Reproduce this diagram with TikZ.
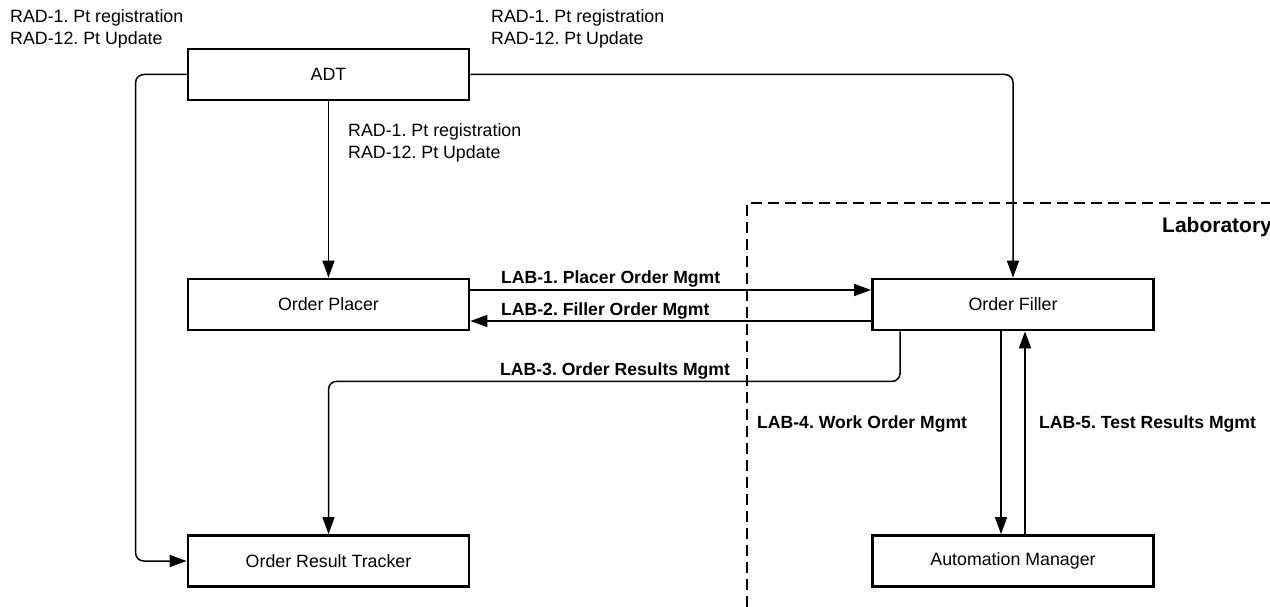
\documentclass[tikz,border=0pt]{standalone}
\usepackage{fontspec}
\setmainfont{Liberation Sans}
\usetikzlibrary{arrows.meta}
\frenchspacing
\begin{document}
\begin{tikzpicture}[x=1pt,y=-1pt,
  box/.style={draw, line width=2.8pt, minimum width=281pt, minimum height=51pt, inner sep=0pt, font=\fontsize{17.8}{21}\selectfont},
  arr/.style={line width=1.5pt, -{Triangle[length=17pt,width=12pt]}},
  lbl/.style={inner sep=0pt, anchor=west, align=left, font=\fontsize{17.8}{22}\selectfont},
  blbl/.style={inner sep=0pt, anchor=west, font=\fontsize{17.6}{21}\selectfont\bfseries},
  labline/.style={line width=1.3pt, dash pattern=on 11pt off 6pt}]
\useasboundingbox (0,0) rectangle (1270,607);
% boxes
\node[box] (adt) at (328.5,74.5) {ADT};
\node[box] (op) at (328.5,304.5) {Order Placer};
\node[box] (ort) at (328.5,561) {Order Result Tracker};
\node[box] (of) at (1013,304.5) {Order Filler};
\node[box] (am) at (1013,561) {Automation Manager};
% laboratory boundary
\coordinate (labbot) at (747,607);
\coordinate (labcorner) at (747,203);
\coordinate (labright) at (1272,203);
\draw[labline] (labbot) -- (labcorner) -- (labright);
\node[blbl, font=\fontsize{21}{25}\selectfont\bfseries] (lab) at (1162,227) {Laboratory};
% connectors
\draw[arr, rounded corners=8pt] (adt.west) -- ++(-51,0) |- (ort.west);
\draw[arr, rounded corners=8pt] (adt.east) -| (of.north);
\draw[arr] (adt.south) -- (op.north);
\draw[arr] ([yshift=14.5pt]op.east) -- ([yshift=14.5pt]of.west);
\draw[arr] ([yshift=-16.5pt]of.west) -- ([yshift=-16.5pt]op.east);
\draw[arr, rounded corners=8pt] ([xshift=-113pt]of.south) -- ++(0,50) -| (ort.north);
\draw[arr] ([xshift=-12pt]of.south) -- ([xshift=-12pt]am.north);
\draw[arr] ([xshift=12pt]am.north) -- ([xshift=12pt]of.south);
% labels
\node[lbl] (t1) at (10,29) {RAD-1. Pt registration\\RAD-12. Pt Update};
\node[lbl] (t2) at (491,29) {RAD-1. Pt registration\\RAD-12. Pt Update};
\node[lbl] (t3) at (348,143) {RAD-1. Pt registration\\RAD-12. Pt Update};
\node[blbl] (l1) at (501,279) {LAB-1. Placer Order Mgmt};
\node[blbl] (l2) at (501,311) {LAB-2. Filler Order Mgmt};
\node[blbl] (l3) at (500,371) {LAB-3. Order Results Mgmt};
\node[blbl] (l4) at (757,424) {LAB-4. Work Order Mgmt};
\node[blbl] (l5) at (1039,424) {LAB-5. Test Results Mgmt};
\end{tikzpicture}
\end{document}
